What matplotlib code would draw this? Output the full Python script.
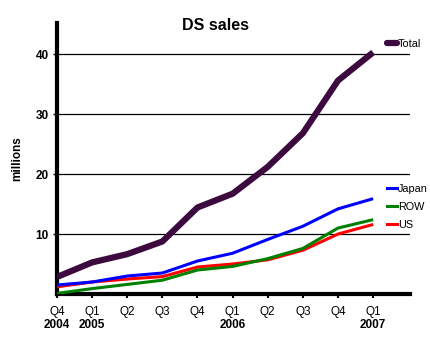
import matplotlib
matplotlib.use("Agg")
import matplotlib.pyplot as plt
from matplotlib.lines import Line2D

plt.rcParams['font.family'] = ['Liberation Sans', 'DejaVu Sans']

quarters = ["Q4", "Q1", "Q2", "Q3", "Q4", "Q1", "Q2", "Q3", "Q4", "Q1"]
years = {0: "2004", 1: "2005", 5: "2006", 9: "2007"}
total = [2.84, 5.27, 6.65, 8.76, 14.43, 16.73, 21.21, 26.82, 35.6, 40.3]
japan = [1.5, 2.0, 3.0, 3.5, 5.5, 6.8, 9.1, 11.3, 14.2, 15.9]
row = [0.1, 0.9, 1.6, 2.3, 4.0, 4.6, 5.9, 7.6, 11.0, 12.4]
us = [1.2, 2.0, 2.5, 2.9, 4.5, 5.0, 5.7, 7.3, 10.0, 11.6]

fig = plt.figure(figsize=(4.3, 3.53), dpi=100)
ax = fig.add_axes([57/430, 1-294/353, (410-57)/430, (294-23)/353])
x = list(range(len(quarters)))

ax.plot(x, us, color='#ff0000', lw=2.2, solid_capstyle='butt', zorder=3)
ax.plot(x, row, color='#008000', lw=2.2, solid_capstyle='butt', zorder=4)
ax.plot(x, japan, color='#0000ff', lw=2.2, solid_capstyle='butt', zorder=3)
ax.plot(x, total, color='#3d0a40', lw=4.5, solid_capstyle='butt', zorder=5)

ax.set_xlim(0, 10.05)
ax.set_ylim(0, 45.2)
ax.set_yticks([10, 20, 30, 40])
ax.set_yticklabels(["10", "20", "30", "40"], fontweight='bold', fontsize=8.5)
ax.yaxis.grid(True, color='black', lw=0.9)
ax.set_axisbelow(True)
ax.set_xticks(x)
ax.set_xticklabels(quarters, fontsize=8.5)
ax.tick_params(axis='x', length=3, width=1.5, pad=6)
ax.tick_params(axis='y', length=3, width=1, pad=3)
for s in ['top', 'right']:
    ax.spines[s].set_visible(False)
ax.spines['left'].set_linewidth(3)
ax.spines['bottom'].set_linewidth(3)

for i, yr in years.items():
    ax.text(i, -5.2, yr, ha='center', va='center', fontsize=8.5, fontweight='bold')

ax.set_ylabel("millions", fontsize=8.5, fontweight='bold', labelpad=9)
fig.text(215/430, 1-26/353, "DS sales", ha='center', va='center', fontsize=11.5, fontweight='bold')

leg1 = ax.legend([Line2D([], [], color='#3d0a40', lw=4.5, solid_capstyle='round')], ["Total"],
                 loc='center left', bbox_to_anchor=(387/430, 1-44/353), bbox_transform=fig.transFigure,
                 frameon=False, handlelength=0.9, handletextpad=0.1, fontsize=7.8, borderpad=0, borderaxespad=0)
ax.add_artist(leg1)
ax.legend([Line2D([], [], color='#0000ff', lw=2.2), Line2D([], [], color='#008000', lw=2.2),
           Line2D([], [], color='#ff0000', lw=2.2)], ["Japan", "ROW", "US"],
          loc='center left', bbox_to_anchor=(387/430, 1-207/353), bbox_transform=fig.transFigure,
          frameon=False, handlelength=0.9, handletextpad=0.1, fontsize=7.8, borderpad=0, borderaxespad=0,
          labelspacing=0.75)

fig.savefig("out.png", dpi=100)
